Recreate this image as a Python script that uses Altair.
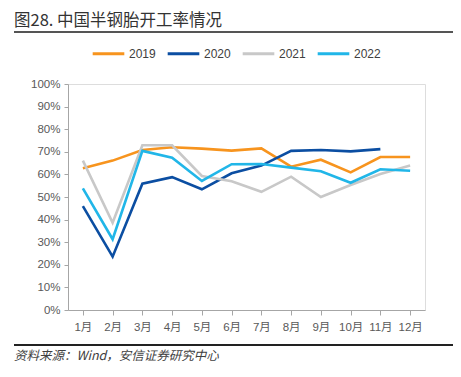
import altair as alt
import pandas as pd

months = ["1月", "2月", "3月", "4月", "5月", "6月", "7月", "8月", "9月", "10月", "11月", "12月"]
years = ["2019", "2020", "2021", "2022"]
v2019 = [62.7, 66.1, 70.8, 72.0, 71.4, 70.5, 71.5, 63.4, 66.5, 60.9, 67.7, 67.7]
v2020 = [46.0, 23.6, 55.9, 58.8, 53.4, 60.5, 63.9, 70.4, 70.8, 70.2, 71.2, None]
v2021 = [66.1, 38.6, 72.9, 72.9, 59.3, 57.0, 52.3, 59.0, 50.0, 55.3, 60.2, 63.9]
v2022 = [53.8, 31.3, 70.4, 67.4, 57.1, 64.5, 64.6, 63.0, 61.4, 56.3, 62.3, 61.6]
colors = ["#F7941E", "#0B4EA2", "#C8C8C8", "#21B6E8"]

title_text = "图28. 中国半钢胎开工率情况"
source_text = "资料来源：Wind，安信证券研究中心"

rows = []
for yr, vals in zip(years, [v2019, v2020, v2021, v2022]):
    for m, v in zip(months, vals):
        if v is not None:
            rows.append({"month": m, "year": yr, "value": v / 100})
df = pd.DataFrame(rows)

FONT = "Liberation Sans, Noto Sans CJK SC"

lines = alt.Chart(df).mark_line(strokeWidth=2.6).encode(
    x=alt.X("month:N", sort=months, title=None,
            scale=alt.Scale(paddingInner=0, paddingOuter=0),
            axis=alt.Axis(labelAngle=0, bandPosition=0, tickSize=5, labelPadding=6,
                          domainColor="#A6A6A6", tickColor="#A6A6A6",
                          labelColor="#595959", labelFontSize=11.5, labelFont=FONT,
                          grid=False, labelAlign="center")),
    y=alt.Y("value:Q", title=None,
            scale=alt.Scale(domain=[0, 1]),
            axis=alt.Axis(format=".0%", values=[i / 10 for i in range(11)], tickSize=4,
                          labelPadding=4, domainColor="#A6A6A6", tickColor="#A6A6A6",
                          labelColor="#595959", labelFontSize=11.5, labelFont=FONT,
                          grid=False)),
    color=alt.Color("year:N", sort=years,
                    scale=alt.Scale(domain=years, range=colors),
                    legend=alt.Legend(title=None, orient="none", direction="horizontal",
                                      legendX=23, legendY=-48, symbolType="stroke",
                                      symbolSize=1000, symbolStrokeWidth=3,
                                      labelFontSize=12, labelColor="#404040",
                                      labelFont=FONT, labelOffset=3, columnPadding=5,
                                      padding=0)),
)

title = alt.Chart(pd.DataFrame({"t": [title_text]})).mark_text(
    align="left", baseline="alphabetic", fontSize=16.5, font="Noto Sans CJK SC",
    color="#333333", fontWeight="normal"
).encode(x=alt.value(-54), y=alt.value(-58), text="t:N")

top_rule = alt.Chart(pd.DataFrame({"a": [0]})).mark_rule(color="#555555", strokeWidth=2).encode(
    x=alt.value(-54), x2=alt.value(385), y=alt.value(-52))

bottom_rule = alt.Chart(pd.DataFrame({"a": [0]})).mark_rule(color="#222222", strokeWidth=1.8).encode(
    x=alt.value(-54), x2=alt.value(385), y=alt.value(261))

source = alt.Chart(pd.DataFrame({"t": [source_text]})).mark_text(
    align="left", baseline="middle", fontSize=12.5, font="Noto Sans CJK SC",
    color="#404040", fontStyle="italic"
).encode(x=alt.value(-54), y=alt.value(272), text="t:N")

chart = alt.layer(lines, title, top_rule, bottom_rule, source).properties(
    width=357, height=226,
    autosize=alt.AutoSizeParams(type="none"),
    padding={"left": 60, "top": 76, "right": 28, "bottom": 59},
).configure_view(stroke=None).configure(background="white")

chart.save("out.html", embed_options={"renderer": "svg", "actions": False})
